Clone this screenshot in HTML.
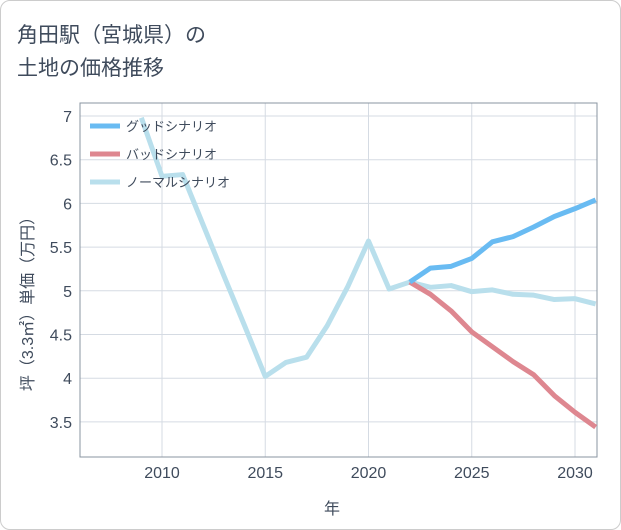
<!DOCTYPE html>
<html><head><meta charset="utf-8"><style>
body{margin:0;background:#fff;}
.wrap{position:relative;width:619px;height:528px;border:1px solid #ccc;border-radius:10px;background:#fff;overflow:hidden;font-family:"Liberation Sans","Noto Sans CJK JP",sans-serif;}
.title{position:absolute;left:16px;top:18px;font-size:21px;line-height:33px;color:#3f4b5c;}
</style></head><body>
<div class="wrap">
<div class="title">角田駅（宮城県）の<br>土地の価格推移</div>
<svg id="c" width="621" height="530" style="position:absolute;left:-1px;top:-1px"><defs><clipPath id="pc"><rect x="80" y="103" width="517" height="354"/></clipPath></defs></svg>
</div>
<script>
const years=[2009,2010,2011,2012,2013,2014,2015,2016,2017,2018,2019,2020,2021,2022,2023,2024,2025,2026,2027,2028,2029,2030,2031];
const normal=[6.98,6.31,6.33,5.75,5.17,4.6,4.02,4.18,4.24,4.6,5.05,5.57,5.02,5.1,5.04,5.06,4.99,5.01,4.96,4.95,4.9,4.91,4.85];
const fYears=[2022,2023,2024,2025,2026,2027,2028,2029,2030,2031];
const good=[5.1,5.26,5.28,5.37,5.56,5.62,5.73,5.85,5.94,6.04];
const bad=[5.1,4.96,4.77,4.53,4.36,4.19,4.04,3.8,3.61,3.44];
const xTicks=[2010,2015,2020,2025,2030];
const yTicks=[3.5,4,4.5,5,5.5,6,6.5,7];
const L=80,R=597,T=103,B=457;
const TC='#3f4b5c';
const x=v=>162+(v-2010)*20.65;
const y=v=>116+(7-v)*87.4;
const s=document.getElementById('c');const NS='http://www.w3.org/2000/svg';
function el(t,a,txt){const e=document.createElementNS(NS,t);for(const k in a)e.setAttribute(k,a[k]);if(txt!=null)e.textContent=txt;s.appendChild(e);return e;}
xTicks.forEach(t=>{const g=el('line',{x1:x(t),x2:x(t),y1:T,y2:B,stroke:'#d5dbe3'});

const l=el('text',{x:x(t),y:478,'text-anchor':'middle','font-size':16,fill:TC},t);
});
yTicks.forEach(t=>{const g=el('line',{x1:L,x2:R,y1:y(t),y2:y(t),stroke:'#d5dbe3'});

const l=el('text',{x:72,y:y(t)+6,'text-anchor':'end','font-size':16,fill:TC},t);
});
const fr=el('rect',{x:L,y:T,width:R-L,height:B-T,fill:'none',stroke:'#8a94a0'});

function line(xs,vs,c,n){const p=el('polyline',{points:xs.map((t,i)=>x(t)+','+y(vs[i])).join(' '),fill:'none',stroke:c,'stroke-width':5,'stroke-linejoin':'round','clip-path':'url(#pc)'});
}
line(years,normal,'#b9dfec','normal-line');
line(fYears,bad,'#de8790','bad-line');
line(fYears,good,'#69bbf2','good-line');
[['グッドシナリオ','#69bbf2',126],['バッドシナリオ','#de8790',154],['ノーマルシナリオ','#b9dfec',182]].forEach(([t,c,yy])=>{
const m=el('line',{x1:90,x2:120,y1:yy,y2:yy,stroke:c,'stroke-width':5});

const l=el('text',{x:126,y:yy+5,'font-size':13,fill:TC},t);
});
const xt=el('text',{x:332,y:514,'text-anchor':'middle','font-size':16,fill:TC},'年');

const yt=el('text',{x:0,y:0,'text-anchor':'middle','font-size':16,fill:TC,transform:'translate(33,300) rotate(-90)'},'坪（3.3㎡）単価（万円）');

</script>
</body></html>
